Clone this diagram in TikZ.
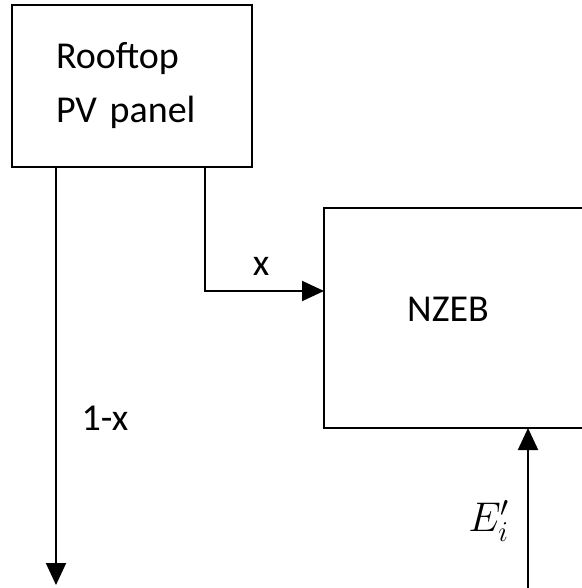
\documentclass[tikz,border=0pt]{standalone}
\usepackage{fontspec}
\setmainfont{Carlito}
\usetikzlibrary{arrows.meta}
\begin{document}
\begin{tikzpicture}[
  x=0.5pt, y=-0.5pt,
  box/.style={rectangle, draw, line width=1pt, font=\fontsize{19}{27}\selectfont},
  openbox/.style={rectangle, line width=1pt},
  arr/.style={-{Triangle[length=11pt, width=10pt]}, line width=1pt},
  lbl/.style={font=\fontsize{19}{22}\selectfont},
]
  \useasboundingbox (0,0) rectangle (582,588);

  \node[box, anchor=north west, align=left, text width=76pt, inner xsep=22pt, inner ysep=0pt, minimum height=81pt] (pv) at (11,4) {Rooftop\\PV panel};
  % right side runs off the page
  \node[openbox, anchor=north west, minimum width=140pt, minimum height=109pt] (nzeb) at (324,208) {};
  \draw[line width=1pt] (nzeb.north east) -- (nzeb.north west) -- (nzeb.south west) -- (nzeb.south east);
  \node[lbl] (nzebtxt) at (448,309) {NZEB};

  \coordinate (grid) at (56,585);
  \coordinate (src) at (528,588);

  \draw[arr] (pv.south -| grid) -- (grid);
  \draw[arr] (pv.south -| 205,0) |- (nzeb.west |- 0,291);
  \draw[arr] (src) -- (nzeb.south -| src);

  \node[lbl] (x) at (261,266) {x};
  \node[lbl] (onex) at (105,418) {1-x};
  \node[font=\fontsize{21}{24}\selectfont] (ei) at (489,521) {$E_i'$};
\end{tikzpicture}
\end{document}
